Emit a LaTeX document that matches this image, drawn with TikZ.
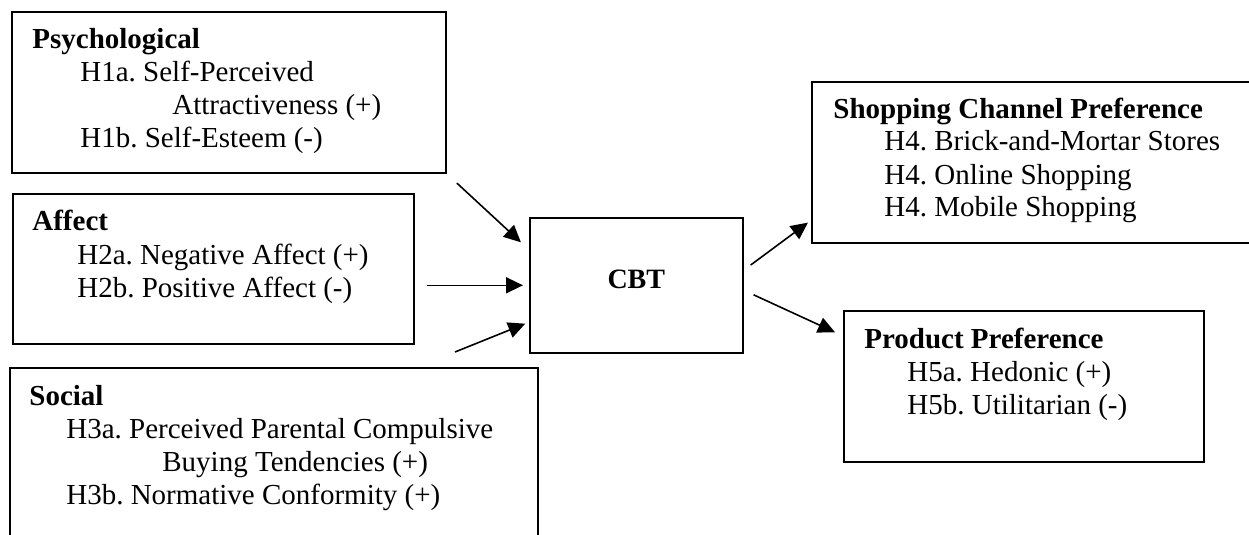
\documentclass[tikz,border=0pt]{standalone}
\usepackage{fontspec}
\setmainfont{Liberation Serif}
\frenchspacing
\usepackage{tikz}
\usetikzlibrary{arrows.meta}
\usetikzlibrary{calc}
\usetikzlibrary{positioning}

\begin{document}
\begin{tikzpicture}[x=0.5pt,y=-0.5pt,>={Triangle[length=8.5pt,width=8pt]},
 box/.style ={draw,black,line width=0.8pt,anchor=north west,inner sep=0pt},
 txt/.style ={anchor=base west,inner sep=0pt,align=left,font=\fontsize{14.5pt}{16.5pt}\selectfont},
 arr/.style ={->,line width=0.8pt}]
\clip (0,0) rectangle (1249,535);
% boxes
\node[box,minimum width=217pt,minimum height=80.5pt] (psych) at (11,11) {};
\node[box,minimum width=200.5pt,minimum height=75pt] (affect) at (12,193) {};
\node[box,minimum width=264pt,minimum height=89pt] (social) at (9,367) {};
\node[box,minimum width=106.5pt,minimum height=67.5pt] (cbt) at (529,217) {};
\node[box,minimum width=222pt,minimum height=80.5pt] (shop) at (811,81) {};
\node[box,minimum width=180pt,minimum height=75.5pt] (prod) at (843,310) {};
% texts (base = last line)
\node[txt] (psychtxt) at ([shift={(21,137)}]psych.north west)
 {\textbf{Psychological}\\\hspace*{24pt}H1a. Self-Perceived\\\hspace*{70pt}Attractiveness (+)\\\hspace*{24pt}H1b. Self-Esteem (-)};
\node[txt] (affecttxt) at ([shift={(20,104)}]affect.north west)
 {\textbf{Affect}\\\hspace*{22.5pt}H2a. Negative Affect (+)\\\hspace*{22.5pt}H2b. Positive Affect (-)};
\node[txt] (socialtxt) at ([shift={(20,137)}]social.north west)
 {\textbf{Social}\\\hspace*{18.5pt}H3a. Perceived Parental Compulsive\\\hspace*{66.5pt}Buying Tendencies (+)\\\hspace*{18.5pt}H3b. Normative Conformity (+)};
\node[font=\fontsize{14pt}{16pt}\selectfont\bfseries] (cbttxt) at ([yshift=3pt]cbt.center) {CBT};
\node[txt] (shoptxt) at ([shift={(22,136)}]shop.north west)
 {\textbf{Shopping Channel Preference}\\\hspace*{25.5pt}H4. Brick-and-Mortar Stores\\\hspace*{25.5pt}H4. Online Shopping\\\hspace*{25.5pt}H4. Mobile Shopping};
\node[txt] (prodtxt) at ([shift={(21,104)}]prod.north west)
 {\textbf{Product Preference}\\\hspace*{21.5pt}H5a. Hedonic (+)\\\hspace*{21.5pt}H5b. Utilitarian (-)};
% arrows
\coordinate (socin) at (455,352);
\draw[arr,shorten <=7pt,shorten >=5.5pt] (psych.south east) -- ($(cbt.north west)!0.24!(cbt.south west)$);
\draw[arr,shorten <=6pt,shorten >=3pt] (affect.east |- cbt.west) -- (cbt.west);
\draw[arr,shorten >=2pt] (socin) -- ($(cbt.north west)!0.77!(cbt.south west)$);
\draw[arr,shorten <=4.4pt,shorten >=1.9pt] ($(cbt.north east)!0.39!(cbt.south east)$) -- ($(shop.north west)!0.857!(shop.south west)$);
\draw[arr,shorten <=5.5pt,shorten >=4.4pt] ($(cbt.north east)!0.536!(cbt.south east)$) -- ($(prod.north west)!0.17!(prod.south west)$);
\end{tikzpicture}
\end{document}
